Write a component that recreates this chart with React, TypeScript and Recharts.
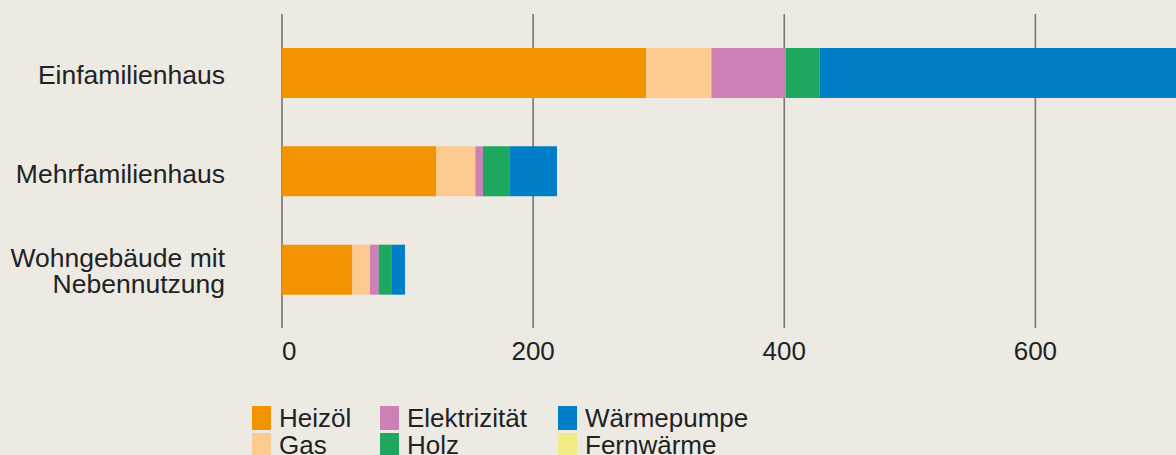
import {Bar, BarChart, CartesianGrid, XAxis, YAxis} from 'recharts'

const categories = ['Einfamilienhaus', 'Mehrfamilienhaus', 'Wohngebäude mit\nNebennutzung']
const heizoel = [290, 123, 56]
const gas = [52, 31, 14]
const elektrizitaet = [59, 6, 7]
const holz = [27, 21, 10]
const waermepumpe = [300, 38, 11]
const fernwaerme = [0, 0, 0]
const xTicks = [0, 200, 400, 600]

const seriesNames = ['Heizöl', 'Gas', 'Elektrizität', 'Holz', 'Wärmepumpe', 'Fernwärme']
const seriesColors = ['#f29300', '#fdcb8f', '#cd80b5', '#1fa65f', '#007ec8', '#f1eb86']
const seriesValues = [heizoel, gas, elektrizitaet, holz, waermepumpe, fernwaerme]

const FONT = '"Liberation Sans", Arial, Helvetica, sans-serif'
const INK = '#222222'

const data = categories.map((name, i) => {
    const row: Record<string, string | number> = {name}
    seriesNames.forEach((s, k) => {
        row[s] = seriesValues[k][i]
    })
    return row
})

function CategoryTick({x, y, payload}: any) {
    const lines = String(payload.value).split('\n')
    const startDy = lines.length > 1 ? -3 : 11
    return (
        <text x={x - 49} y={y} textAnchor="end" fill={INK} fontSize={26.5} fontFamily={FONT}>
            {lines.map((line, i) => (
                <tspan key={i} x={x - 49} dy={i === 0 ? startDy : 26}>{line}</tspan>
            ))}
        </text>
    )
}

function ValueTick({x, y, payload, index}: any) {
    return (
        <text x={x} y={y} dy={24} textAnchor={index === 0 ? 'start' : 'middle'} fill={INK}
              fontSize={26} fontFamily={FONT}>
            {payload.value}
        </text>
    )
}

function LegendBox() {
    const colWidths = [128, 178, 200]
    return (
        <div style={{
            position: 'absolute', left: 252, top: 405, display: 'grid',
            gridTemplateRows: '27px 27px', gridAutoFlow: 'column',
            gridTemplateColumns: colWidths.map((w) => `${w}px`).join(' '),
            fontFamily: FONT, fontSize: 26, lineHeight: '27px', color: INK,
        }}>
            {seriesNames.map((name, i) => (
                <div key={name} style={{display: 'flex', alignItems: 'flex-start', whiteSpace: 'nowrap'}}>
                    <span style={{
                        width: 19, height: 24, marginTop: 1, marginRight: 8,
                        background: seriesColors[i], display: 'inline-block', flex: 'none',
                    }}/>
                    <span>{name}</span>
                </div>
            ))}
        </div>
    )
}

export default function App() {
    return (
        <div style={{position: 'relative', width: 1176, height: 455, background: '#edeae4', overflow: 'hidden'}}>
            <style>{'body{margin:0}'}</style>
            <BarChart
                width={1176}
                height={455}
                data={data}
                layout="vertical"
                margin={{top: 14, right: 0, bottom: 97, left: 0}}
                barSize={50}
            >
                <CartesianGrid
                    horizontal={false}
                    stroke="#767676"
                    strokeWidth={1.6}
                    verticalCoordinatesGenerator={({offset}: any) =>
                        xTicks.map((t) => offset.left + (t / 712) * offset.width)}
                />
                <XAxis
                    type="number"
                    domain={[0, 712]}
                    ticks={xTicks}
                    allowDataOverflow
                    height={30}
                    axisLine={false}
                    tickLine={false}
                    tick={<ValueTick/>}
                />
                <YAxis
                    type="category"
                    dataKey="name"
                    width={282}
                    axisLine={false}
                    tickLine={false}
                    padding={{top: 10, bottom: 9}}
                    tick={<CategoryTick/>}
                />
                {seriesNames.map((name, i) => (
                    <Bar key={name} dataKey={name} stackId="a" fill={seriesColors[i]} isAnimationActive={false}/>
                ))}
            </BarChart>
            <LegendBox/>
        </div>
    )
}
